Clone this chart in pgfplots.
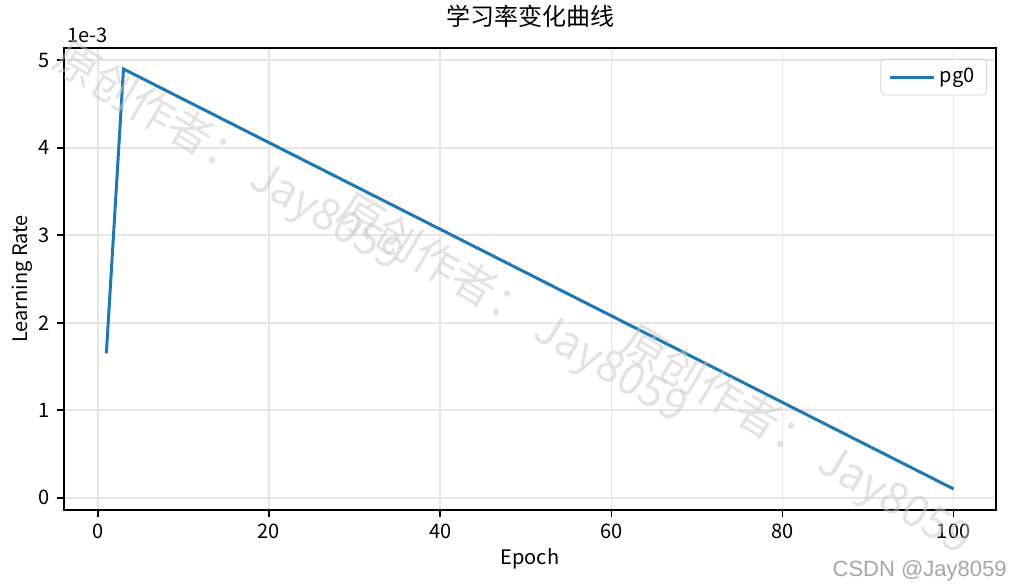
\documentclass[border=0pt]{standalone}
\usepackage{fontspec}
\setmainfont{Noto Sans CJK SC}
\newfontfamily\csdnfont{Liberation Sans}
\usepackage{pgfplots}
\pgfplotsset{compat=1.18}
\definecolor{mplblue}{HTML}{1F77B4}
\definecolor{gridgray}{HTML}{E6E6E6}
\definecolor{wmgray}{HTML}{C8C8C8}

\begin{document}
\begin{tikzpicture}
\useasboundingbox (-32pt,-37pt) rectangle (473.5pt,255pt);
\begin{axis}[
  at={(0,0)}, anchor=south west,
  scale only axis, width=466pt, height=231pt,
  xmin=-3.95, xmax=104.95, ymin=-0.14, ymax=5.14,
  xtick={0,20,...,100}, ytick={0,1,...,5},
  tick align=outside, tick pos=left, major tick length=3.5pt,
  grid=major, grid style={gridgray, line width=0.8pt},
  axis line style={line width=0.8pt},
  every tick/.style={black, line width=0.8pt},
  ticklabel style={font=\fontsize{10}{12}\selectfont},
  /pgf/number format/assume math mode=true,
  title={学习率变化曲线},
  title style={at={(axis description cs:0.5,1.043)}, anchor=center, font=\fontsize{12}{14}\selectfont},
  xlabel={Epoch}, ylabel={Learning Rate},
  xlabel style={at={(axis description cs:0.5,-0.106)}, anchor=center, font=\fontsize{10}{12}\selectfont},
  ylabel style={at={(axis description cs:-0.045,0.5)}, anchor=center, font=\fontsize{10}{12}\selectfont},
  legend style={at={(axis description cs:1,1)}, anchor=north east, xshift=-4.5pt, yshift=-5.5pt,
    draw=gray!35, rounded corners=2pt, font=\fontsize{10}{12}\selectfont,
    inner xsep=4pt, inner ysep=2.5pt},
  legend image code/.code={\draw[#1] (0pt,0pt) -- (22pt,0pt);},
  legend cell align=left,
]
\addplot[mplblue, line width=1.5pt] coordinates {
  (1,1.65) (2,3.27) (3,4.90) (100,0.10)
};
\addlegendentry{pg0}
\end{axis}
\node[anchor=west, font=\fontsize{10}{12}\selectfont, inner sep=0pt] at (1.5pt,237.5pt) {1e-3};
\begin{scope}[font=\fontsize{22}{24}\selectfont, text=wmgray, opacity=0.5]
  \node[rotate=-31] at (82pt,176pt) {原创作者： Jay8059};
  \node[rotate=-31] at (224pt,100pt) {原创作者： Jay8059};
  \node[rotate=-31] at (366pt,34pt) {原创作者： Jay8059};
\end{scope}
\node[anchor=base east, font=\csdnfont\fontsize{11}{13}\selectfont, text=gray!70, inner sep=0pt] at (471.5pt,-33pt) {CSDN @Jay8059};
\end{tikzpicture}
\end{document}
